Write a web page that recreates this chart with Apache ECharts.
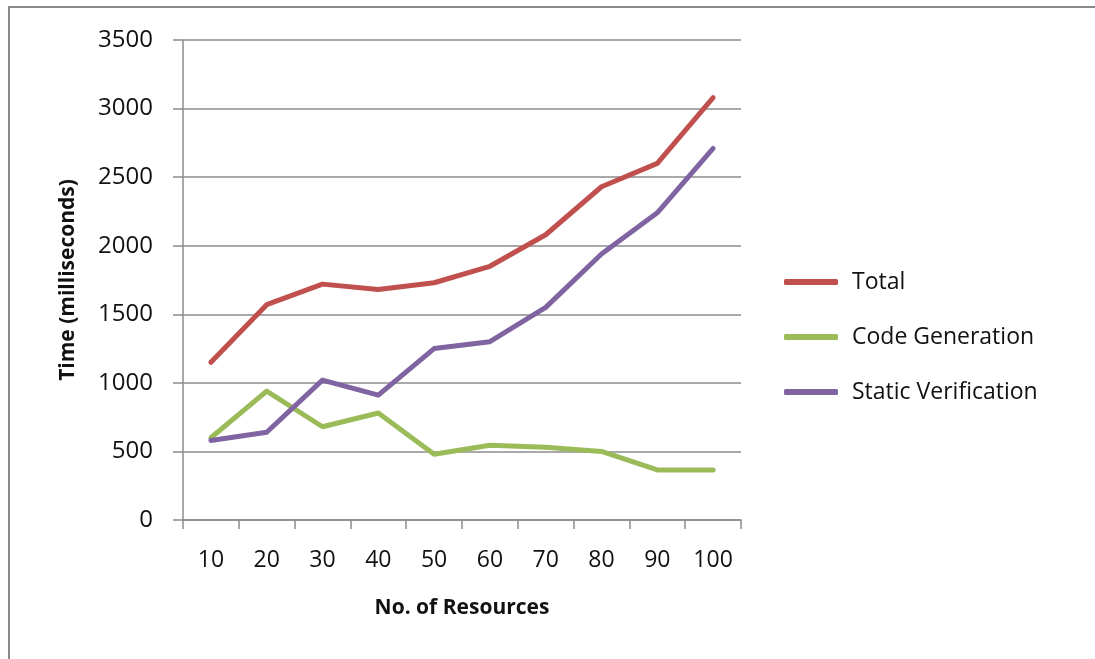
<!DOCTYPE html>
<html>
<head>
<meta charset="utf-8">
<script src="https://cdn.jsdelivr.net/npm/echarts@6/dist/echarts.min.js"></script>
<style>
  html, body { margin: 0; padding: 0; background: #fff; }
  #chart { width: 1095px; height: 659px; }
</style>
</head>
<body>
<div id="chart"></div>
<script>
// Resource counts on the x axis
const resources = ['10', '20', '30', '40', '50', '60', '70', '80', '90', '100'];

// Timings in milliseconds
const total = [1150, 1570, 1720, 1680, 1730, 1850, 2080, 2430, 2600, 3080];
const codeGeneration = [600, 940, 680, 780, 480, 545, 530, 500, 365, 365];
const staticVerification = [580, 640, 1020, 910, 1250, 1300, 1550, 1940, 2240, 2710];

const FONT = '"Open Sans", "Liberation Sans", sans-serif';
const GRID_GRAY = '#8c8c8c';
const TEXT = '#111111';

const chart = echarts.init(document.getElementById('chart'), null, { renderer: 'canvas' });

chart.setOption({
  backgroundColor: '#ffffff',
  animation: false,
  graphic: [{
    type: 'rect',
    shape: { x: 9, y: 7, width: 1200, height: 700 },
    style: { fill: 'none', stroke: '#8a8a8a', lineWidth: 2 },
    silent: true
  }],
  grid: { left: 183, right: 354, top: 40, bottom: 139 },
  legend: {
    orient: 'vertical',
    left: 779,
    top: 263,
    itemWidth: 54,
    itemHeight: 6,
    itemGap: 27,
    icon: 'roundRect',
    textStyle: {
      fontFamily: FONT,
      fontSize: 23,
      color: TEXT,
      lineHeight: 28,
      padding: [0, 0, 0, 9]
    },
    data: ['Total', 'Code Generation', 'Static Verification']
  },
  xAxis: {
    type: 'category',
    data: resources,
    boundaryGap: true,
    name: 'No. of Resources',
    nameLocation: 'middle',
    nameGap: 78,
    nameTextStyle: { fontFamily: FONT, fontSize: 21, fontWeight: 'bold', color: TEXT },
    axisLine: { show: true, lineStyle: { color: GRID_GRAY, width: 1.5 } },
    axisTick: { show: true, length: 9, alignWithLabel: false, lineStyle: { color: GRID_GRAY, width: 1.5 } },
    axisLabel: { fontFamily: FONT, fontSize: 23, color: TEXT, margin: 29 },
    splitLine: { show: false }
  },
  yAxis: {
    type: 'value',
    min: 0,
    max: 3500,
    interval: 500,
    name: 'Time (milliseconds)',
    nameLocation: 'middle',
    nameGap: 104,
    nameRotate: 90,
    nameTextStyle: { fontFamily: FONT, fontSize: 21, fontWeight: 'bold', color: TEXT },
    axisLine: { show: true, lineStyle: { color: GRID_GRAY, width: 1.5 } },
    axisTick: { show: true, length: 10, lineStyle: { color: GRID_GRAY, width: 1.5 } },
    axisLabel: { fontFamily: FONT, fontSize: 24, color: TEXT, margin: 30, formatter: v => String(v) },
    splitLine: { show: true, lineStyle: { color: GRID_GRAY, width: 1.5 } }
  },
  series: [
    {
      name: 'Total',
      type: 'line',
      data: total,
      symbol: 'none',
      itemStyle: { color: '#c0504d' },
      lineStyle: { color: '#c0504d', width: 5, cap: 'round', join: 'round' }
    },
    {
      name: 'Code Generation',
      type: 'line',
      data: codeGeneration,
      symbol: 'none',
      itemStyle: { color: '#9bbb59' },
      lineStyle: { color: '#9bbb59', width: 5, cap: 'round', join: 'round' }
    },
    {
      name: 'Static Verification',
      type: 'line',
      data: staticVerification,
      symbol: 'none',
      itemStyle: { color: '#8064a2' },
      lineStyle: { color: '#8064a2', width: 5, cap: 'round', join: 'round' }
    }
  ]
});
</script>
</body>
</html>
